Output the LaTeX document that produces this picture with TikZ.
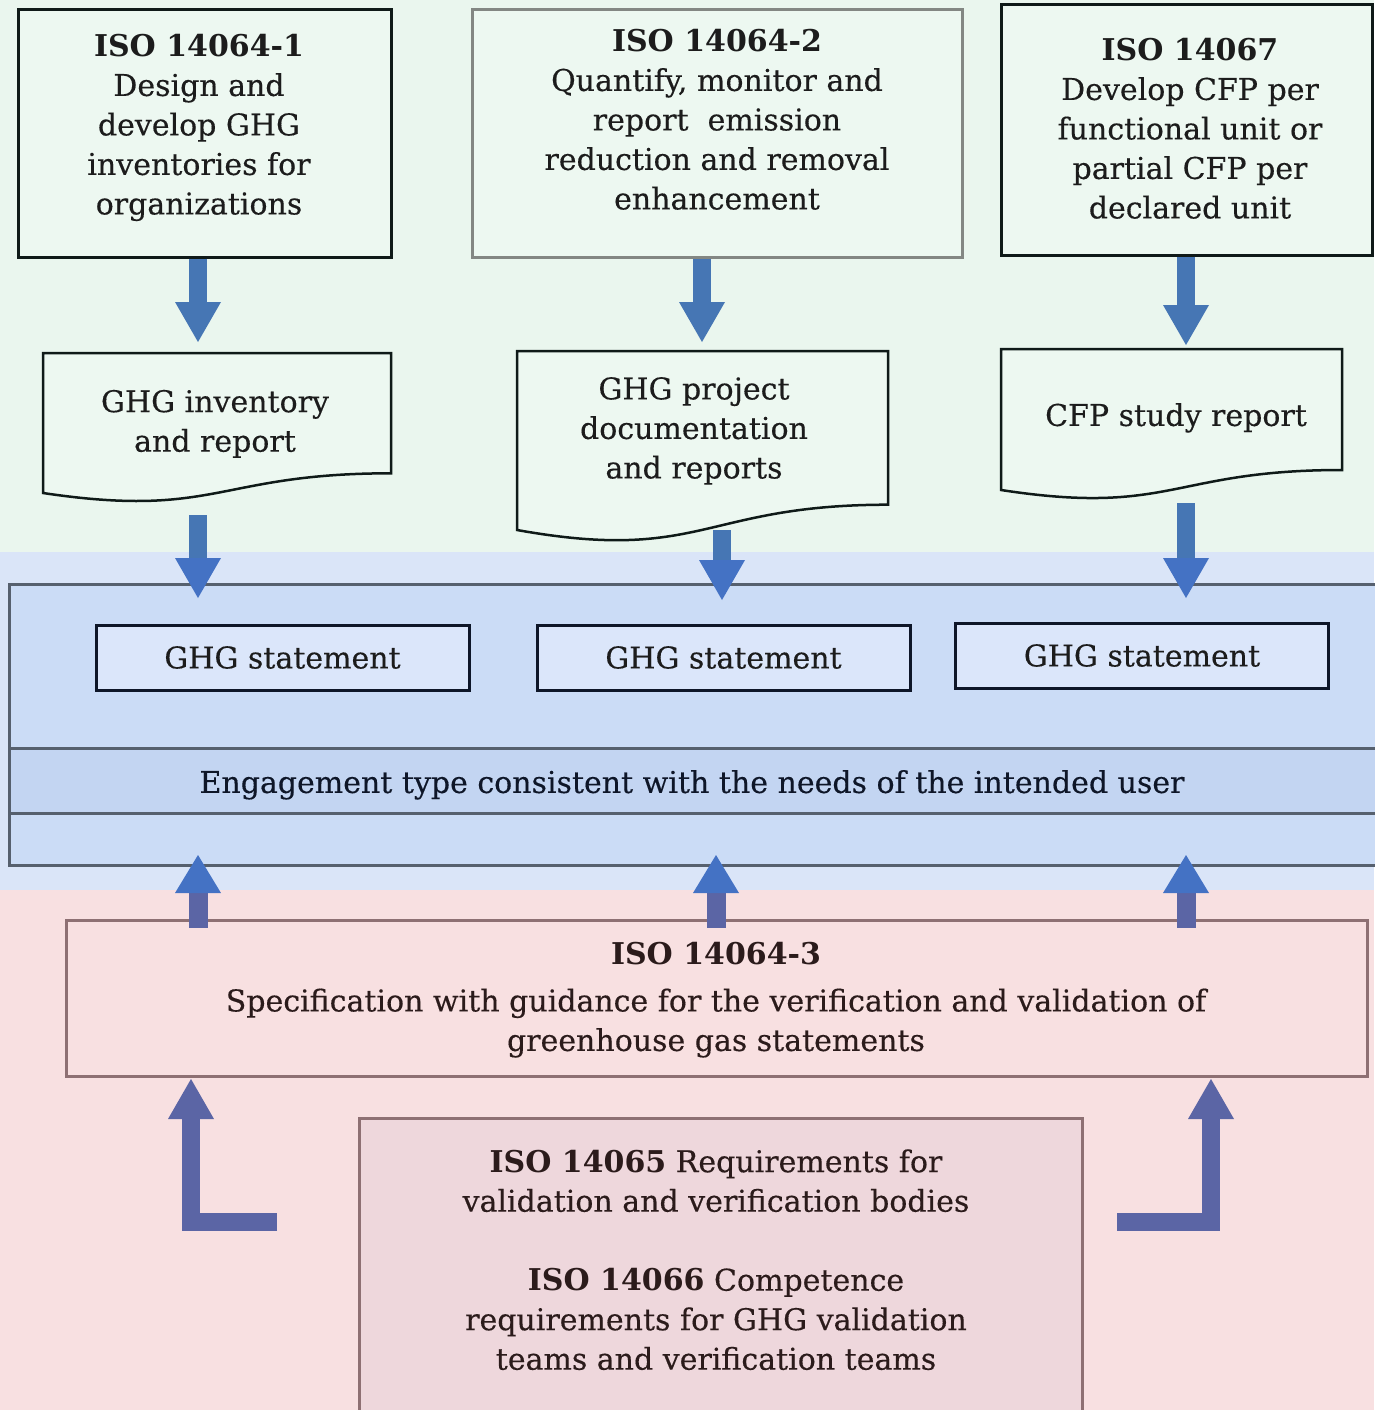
\documentclass[tikz,border=0pt]{standalone}
\usepackage{fontspec}
\setmainfont{DejaVu Serif}[UprightFeatures={FakeBold=0.35}]
\usetikzlibrary{arrows.meta}
\definecolor{greenbg}{HTML}{EAF6EE}
\definecolor{greenbox}{HTML}{EDF8F1}
\definecolor{bluebg}{HTML}{DAE5F8}
\definecolor{bigfill}{HTML}{CBDCF6}
\definecolor{bandfill}{HTML}{C3D5F2}
\definecolor{stmtfill}{HTML}{DBE6FA}
\definecolor{pinkbg}{HTML}{F8E0E1}
\definecolor{botfill}{HTML}{EED7DC}
\definecolor{darkline}{HTML}{0F1A18}
\definecolor{grayline}{HTML}{838783}
\definecolor{blueline}{HTML}{56606E}
\definecolor{stmtline}{HTML}{0E1628}
\definecolor{pinkline}{HTML}{8E7073}
\definecolor{arrblue}{HTML}{4676B4}
\definecolor{headblue}{HTML}{4472C4}
\definecolor{arrpurple}{HTML}{5B65A5}
\definecolor{txtdark}{HTML}{1C1C1C}
\definecolor{txtpink}{HTML}{2B1B1B}
\newcommand{\fs}{\fontsize{30}{39.5}\selectfont}
\begin{document}
\begin{tikzpicture}[x=1pt,y=-1pt,
  boxshape/.style={rectangle,line width=3pt,inner sep=0pt},
  boxtext/.style={align=center,text=txtdark,inner sep=0pt,font=\fs},
  pinktext/.style={align=center,text=txtpink,inner sep=0pt,font=\fs},
  docshape/.style={draw=darkline,line width=2.5pt,fill=greenbox},
  stmt/.style={rectangle,draw=stmtline,fill=stmtfill,line width=3pt,minimum width=373pt,minimum height=65pt,inner sep=0pt,font=\fs,text=txtdark},
  downarr/.style={draw=arrblue,line width=18pt,-{Triangle[width=46pt,length=40pt,line width=0pt,fill=arrblue,color=arrblue]}},
  downarrb/.style={draw=arrblue,line width=18pt,-{Triangle[width=46pt,length=40pt,line width=0pt,fill=headblue,color=headblue]}},
  uparr/.style={draw=arrpurple,line width=19pt,-{Triangle[width=46pt,length=38pt,line width=0pt,fill=headblue,color=headblue]}},
  larr/.style={draw=arrpurple,line width=18pt,miter limit=10,-{Triangle[width=46pt,length=40pt,line width=0pt,fill=arrpurple,color=arrpurple]}},
]
\useasboundingbox (0,0) rectangle (1374,1410);
% background bands
\fill[greenbg] (0,0) rectangle (1374,552);
\fill[bluebg] (0,552) rectangle (1374,890);
\fill[pinkbg] (0,890) rectangle (1374,1410);

% top boxes
\node[boxshape,draw=darkline,fill=greenbox,minimum width=373pt,minimum height=247pt] (b1) at (204.5,133.5) {};
\node[boxshape,draw=grayline,fill=greenbox,minimum width=490pt,minimum height=247pt] (b2) at (717,133.5) {};
\node[boxshape,draw=darkline,fill=greenbox,minimum width=371pt,minimum height=250pt] (b3) at (1186.5,130) {};
\node[boxtext] (t1) at (199,127.5) {\strut\textbf{ISO 14064-1}\\\strut Design and\\\strut develop GHG\\\strut inventories for\\\strut organizations};
\node[boxtext] (t2) at (717,122.5) {\strut\textbf{ISO 14064-2}\\\strut Quantify, monitor and\\\strut report~ emission\\\strut reduction and removal\\\strut enhancement};
\node[boxtext] (t3) at (1190,131.5) {\strut\textbf{ISO 14067}\\\strut Develop CFP per\\\strut functional unit or\\\strut partial CFP per\\\strut declared unit};

% documents
\draw[docshape] (43,353) coordinate (d1nw) -- (391,353) -- (391,473.3) .. controls (217,473.3) and (217,519) .. (43,493) -- cycle;
\draw[docshape] (517,351) coordinate (d2nw) -- (888,351) -- (888,504.7) .. controls (702.5,504.7) and (702.5,563.2) .. (517,530) -- cycle;
\draw[docshape] (1001,349) coordinate (d3nw) -- (1342,349) -- (1342,470) .. controls (1171.5,470) and (1171.5,516.2) .. (1001,490) -- cycle;
\node[boxtext] (d1) at (215,424) {\strut GHG inventory\\\strut and report};
\node[boxtext] (d2) at (694,431) {\strut GHG project\\\strut documentation\\\strut and reports};
\node[boxtext] (d3) at (1176,418) {\strut CFP study report};

% arrows row 1
\coordinate (a1) at (198,342);
\coordinate (a2) at (702,342);
\coordinate (a3) at (1186,345);
\draw[downarr] (b1.south -| a1) -- (a1);
\draw[downarr] (b2.south -| a2) -- (a2);
\draw[downarr] (b3.south -| a3) -- (a3);

% big blue box
\node[rectangle,draw=blueline,fill=bigfill,line width=3pt,minimum width=1371pt,minimum height=281pt,inner sep=0pt] (eng) at (694.5,724.5) {};
\node[rectangle,draw=blueline,fill=bandfill,line width=3pt,minimum width=1371pt,minimum height=65pt,inner sep=0pt] (band) at (694.5,780.5) {};
\node[boxtext,text=stmtline] (engt) at (692,785) {\strut Engagement type consistent with the needs of the intended user};

% statements
\node[stmt] (s1) at (282.5,657.5) {GHG statement};
\node[stmt] (s2) at (723.5,657.5) {GHG statement};
\node[stmt] (s3) at (1142,655.5) {GHG statement};

% arrows row 2
\coordinate (c1) at (198,515); \coordinate (e1) at (198,598);
\coordinate (c2) at (722,530); \coordinate (e2) at (722,600);
\coordinate (c3) at (1186,503); \coordinate (e3) at (1186,598);
\draw[downarrb] (c1) -- (e1);
\draw[downarrb] (c2) -- (e2);
\draw[downarrb] (c3) -- (e3);

% ISO 14064-3 box
\node[rectangle,draw=pinkline,fill=pinkbg,line width=3pt,minimum width=1301pt,minimum height=156pt,inner sep=0pt] (iso3) at (716.5,998) {};
\node[pinktext] (iso3t) at (716,1000) {\strut\textbf{ISO 14064-3}\\[7pt]\strut Specification with guidance for the verification and validation of\\\strut greenhouse gas statements};

% up arrows
\coordinate (u1) at (198,855); \coordinate (u2) at (716,855); \coordinate (u3) at (1186,855);
\draw[uparr] (iso3.north -| u1) ++(0,9) -- (u1);
\draw[uparr] (iso3.north -| u2) ++(0,9) -- (u2);
\draw[uparr] (iso3.north -| u3) ++(0,9) -- (u3);

% bottom box
\node[rectangle,draw=pinkline,fill=botfill,line width=3pt,minimum width=723pt,minimum height=302pt,inner sep=0pt] (bot) at (720.5,1269) {};
\node[pinktext] (bott) at (716,1263) {\strut\textbf{ISO 14065} Requirements for\\\strut validation and verification bodies\\\strut\\\strut\textbf{ISO 14066} Competence\\\strut requirements for GHG validation\\\strut teams and verification teams};

% L arrows
\coordinate (l1) at (191,1079); \coordinate (l2) at (1211,1079);
\draw[larr] (277,1222) -- (l1 |- 0,1222) -- (l1);
\draw[larr] (1117,1222) -- (l2 |- 0,1222) -- (l2);
\end{tikzpicture}
\end{document}
